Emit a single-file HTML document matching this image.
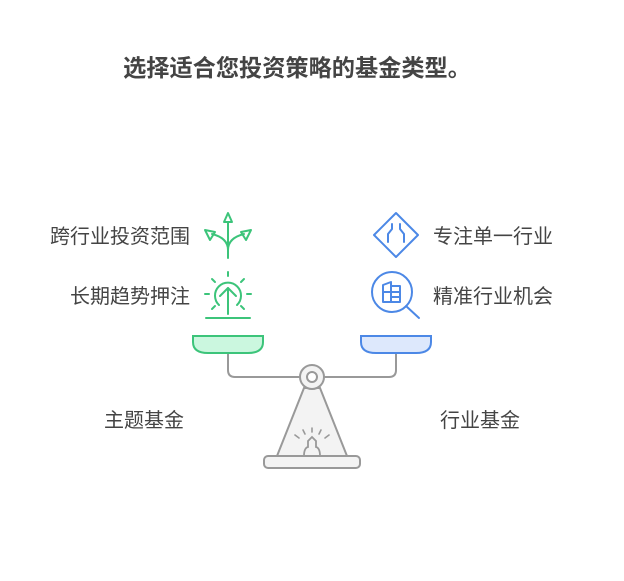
<!DOCTYPE html>
<html><head><meta charset="utf-8"><style>
body{margin:0;width:624px;height:576px;background:#fff;overflow:hidden}
svg text{font-family:"Liberation Sans","Noto Sans CJK SC",sans-serif;fill:#444}
</style></head><body>
<svg width="624" height="576" viewBox="0 0 624 576" xmlns="http://www.w3.org/2000/svg">
<text x="297" y="76" font-size="23.2" font-weight="bold" text-anchor="middle" fill="#444">选择适合您投资策略的基金类型。</text>
<g font-size="20">
<text x="190" y="243" text-anchor="end">跨行业投资范围</text>
<text x="190" y="303" text-anchor="end">长期趋势押注</text>
<text x="433" y="243">专注单一行业</text>
<text x="433" y="303">精准行业机会</text>
<text x="184" y="427" text-anchor="end">主题基金</text>
<text x="440" y="427">行业基金</text>
</g>
<!-- stand -->
<g stroke="#999" stroke-width="2" fill="none">
<path d="M228 354 V370 Q228 377 235 377 H300"/>
<path d="M396 354 V370 Q396 377 389 377 H324"/>
<path d="M304 388 L277 456 H347 L320 388 Z" fill="#f3f3f3"/>
<rect x="264" y="456" width="96" height="12" rx="4" fill="#f3f3f3"/>
<circle cx="312" cy="377" r="12" fill="#f3f3f3"/>
<circle cx="312" cy="377" r="5" fill="#fff"/>
<path d="M304 456 Q304 448 308 447 V441 L312 437 L316 441 V447 Q320 448 320 456" stroke-width="1.8"/>
<g stroke-width="1.6" stroke-linecap="round">
<line x1="312" y1="428" x2="312" y2="432"/>
<line x1="303" y1="430" x2="305" y2="434"/>
<line x1="321" y1="430" x2="319" y2="434"/>
<line x1="295" y1="435" x2="299" y2="438"/>
<line x1="329" y1="435" x2="325" y2="438"/>
</g>
</g>
<!-- pans -->
<path d="M193 336 H263 V342 Q263 353 248 353 H208 Q193 353 193 342 Z" fill="#cbf7df" stroke="#3cc47a" stroke-width="2"/>
<path d="M361 336 H431 V342 Q431 353 416 353 H376 Q361 353 361 342 Z" fill="#dde8fc" stroke="#4c88e6" stroke-width="2"/>
<!-- green icons -->
<g stroke="#3cc47a" stroke-width="2" fill="none" stroke-linecap="round" stroke-linejoin="round">
<line x1="228" y1="222" x2="228" y2="258"/>
<path d="M224 222 L228 213 L232 222 Z"/>
<path d="M228 250 Q228 238 212 234"/>
<path d="M228 250 Q228 238 244 234"/>
<path d="M205 230 L215 232 L210 240 Z"/>
<path d="M251 230 L241 232 L246 240 Z"/>
<path d="M219 305 A13 13 0 1 1 237 305"/>
<line x1="228" y1="288" x2="228" y2="314"/>
<path d="M220 296 L228 288 L236 296"/>
<line x1="206" y1="318" x2="250" y2="318"/>
<line x1="228" y1="272" x2="228" y2="276"/>
<line x1="212" y1="279" x2="215" y2="282"/>
<line x1="244" y1="279" x2="241" y2="282"/>
<line x1="205" y1="294" x2="209" y2="294"/>
<line x1="247" y1="294" x2="251" y2="294"/>
<line x1="212" y1="309" x2="215" y2="306"/>
<line x1="244" y1="309" x2="241" y2="306"/>
</g>
<!-- blue icons -->
<g stroke="#4c88e6" stroke-width="2" fill="none" stroke-linecap="round" stroke-linejoin="round">
<path d="M396 213 L418 235 L396 257 L374 235 Z"/>
<path d="M392 224 V229 L388 234 V242"/>
<path d="M400 224 V229 L404 234 V242"/>
<circle cx="392" cy="292" r="20"/>
<line x1="406" y1="306" x2="419" y2="318"/>
<path d="M383 285 L391 282 V302 H383 Z"/>
<path d="M391 286 H400 V302 H391"/>
<line x1="384" y1="292" x2="390" y2="292"/>
<line x1="392" y1="292" x2="399" y2="292"/>
<line x1="392" y1="297" x2="399" y2="297"/>
</g>
</svg>
</body></html>
